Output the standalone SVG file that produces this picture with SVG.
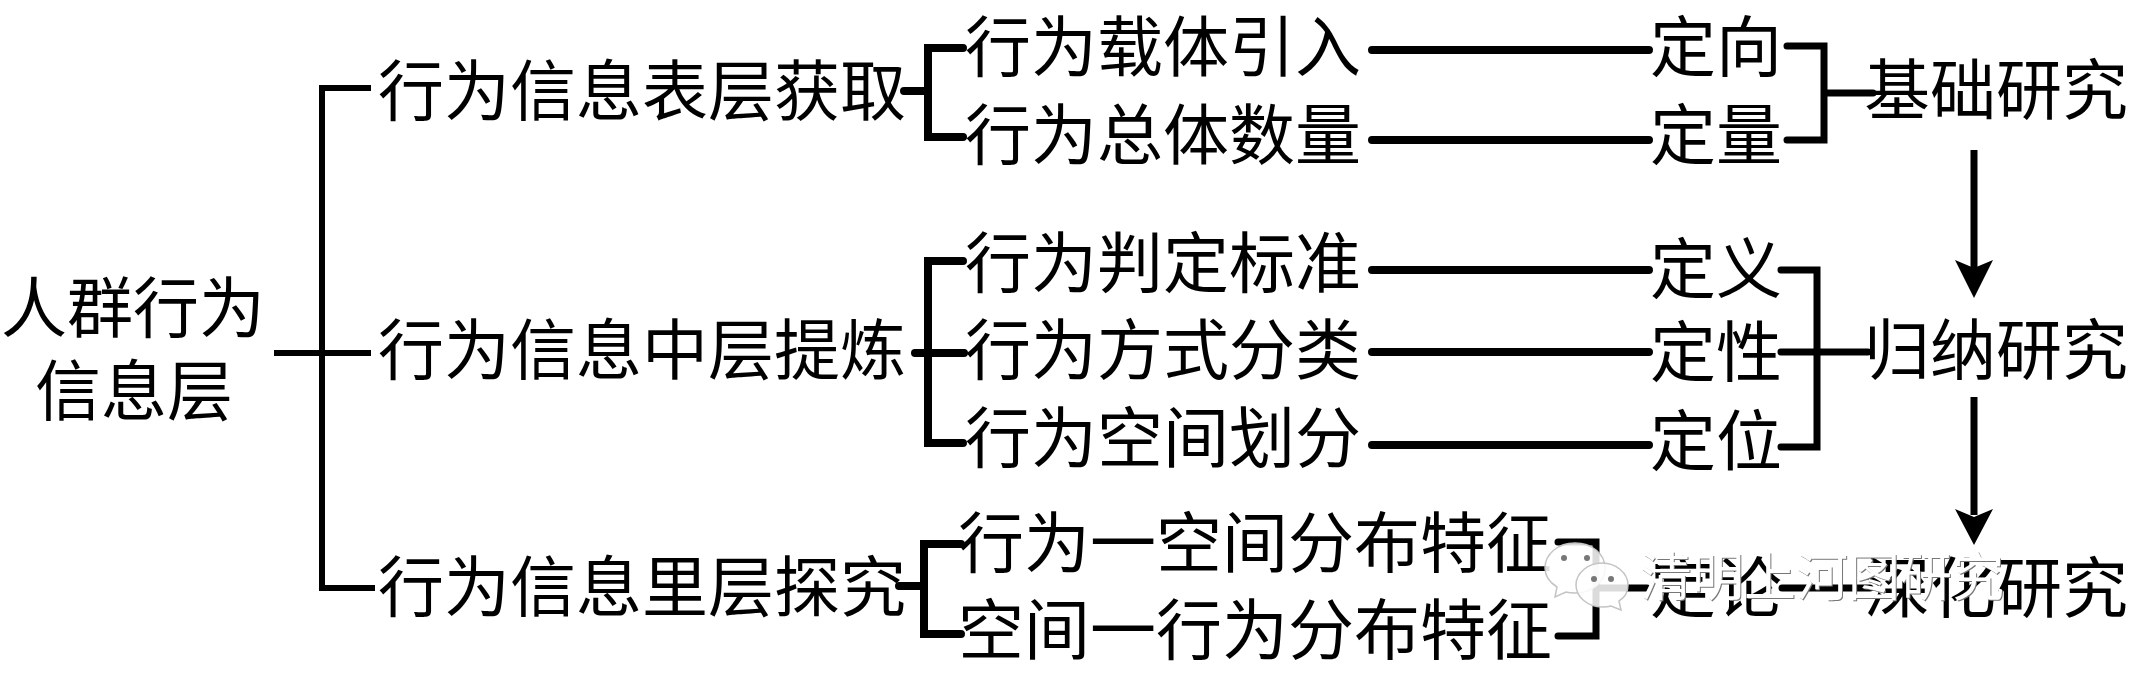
<svg xmlns="http://www.w3.org/2000/svg" width="2131" height="675" viewBox="0 0 2131 675">
<defs>
<style>
text{font-family:"Noto Sans CJK SC","Noto Sans CJK JP",sans-serif;font-size:66px;fill:#000}
.c{fill:none;stroke:#000;stroke-width:7;stroke-linecap:round;stroke-linejoin:miter}
.t{stroke-width:6;stroke-linecap:butt}
.b{stroke-width:8}
.wm{font-size:52px;fill:#fff;filter:drop-shadow(1px 1px 0 #777)}
.bub{fill:#fff;fill-opacity:.86;stroke:#c4c4c4;stroke-width:1.5}
.eye{fill:#777}
</style>
</defs>
<rect width="2131" height="675" fill="#fff"/>
<g id="connectors">
<path class="c t" d="M274 353H371M371 88H322V588H375"/>
<path class="c b" d="M904 91H928M963 48H928V137H963"/>
<path class="c b" d="M915 353H964M963 261H928V443H963"/>
<path class="c b" d="M899 586H924M961 544H924V634H961"/>
<path class="c b" d="M1372 50H1649M1372 140H1649M1372 270H1649M1372 352H1649M1372 445H1649"/>
<path class="c" d="M1787 46H1824V140H1787M1824 93H1873"/>
<path class="c" d="M1781 270H1817V447H1781M1781 352H1868"/>
<path class="c" d="M1558 542H1596V636H1558M1596 588H1647M1782 588H1870"/>
<path d="M1974 150V270" stroke="#000" stroke-width="7" fill="none"/>
<path d="M1974 298L1955 260L1974 268L1993 260Z"/>
<path d="M1974 397V515" stroke="#000" stroke-width="7" fill="none"/>
<path d="M1974 545L1955 509L1974 517L1993 509Z"/>
</g>
<g id="root"><text x="1" y="332">人群行为</text><text x="35" y="415">信息层</text></g>
<g id="l2-surface"><text x="378" y="115">行为信息表层获取</text></g>
<g id="l2-middle"><text x="378" y="374">行为信息中层提炼</text></g>
<g id="l2-inner"><text x="378" y="611">行为信息里层探究</text></g>
<g id="item-carrier"><text x="965" y="71">行为载体引入</text></g>
<g id="item-count"><text x="965" y="159">行为总体数量</text></g>
<g id="item-criteria"><text x="965" y="287">行为判定标准</text></g>
<g id="item-mode"><text x="965" y="374">行为方式分类</text></g>
<g id="item-space"><text x="965" y="462">行为空间划分</text></g>
<g id="item-bs"><text x="958" y="567">行为一空间分布特征</text></g>
<g id="item-sb"><text x="958" y="654">空间一行为分布特征</text></g>
<g id="q-direction"><text x="1650" y="71">定向</text></g>
<g id="q-amount"><text x="1650" y="159">定量</text></g>
<g id="q-define"><text x="1650" y="293">定义</text></g>
<g id="q-nature"><text x="1650" y="376">定性</text></g>
<g id="q-locate"><text x="1650" y="465">定位</text></g>
<g id="q-theory"><text x="1650" y="612">定论</text></g>
<g id="r-basic"><text x="1864" y="114">基础研究</text></g>
<g id="r-induct"><text x="1864" y="374">归纳研究</text></g>
<g id="r-deep"><text x="1864" y="612">深化研究</text></g>
<g id="watermark">
<path class="bub" d="M1575 543C1592 543 1605 554 1605 568C1605 582 1592 593 1575 593C1572 593 1569 593 1566 592L1555 597L1557 587C1549 582 1545 576 1545 568C1545 554 1558 543 1575 543Z"/>
<circle class="eye" cx="1564" cy="558" r="3"/><circle class="eye" cx="1587" cy="558" r="3"/>
<path class="bub" d="M1602 563C1616 563 1628 573 1628 585C1628 592 1624 598 1619 601L1621 610L1611 606C1608 607 1605 607 1602 607C1588 607 1576 597 1576 585C1576 573 1588 563 1602 563Z"/>
<circle class="eye" cx="1594" cy="579" r="3"/><circle class="eye" cx="1611" cy="579" r="3"/>
<text class="wm" x="1640" y="596">清明上河图研究</text>
</g>
</svg>
